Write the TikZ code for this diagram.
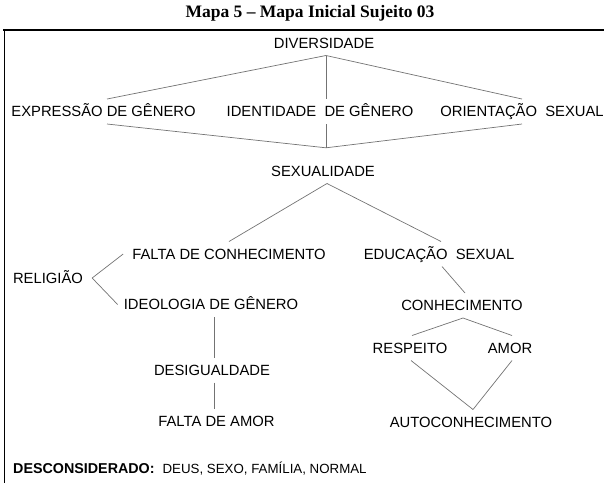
\documentclass[tikz,border=0pt]{standalone}
\usepackage{fontspec}
\setmainfont{Liberation Sans}
\newfontfamily\titlefont{Liberation Serif}
\begin{document}
\begin{tikzpicture}[x=1pt,y=-1pt,
        concept/.style={inner xsep=9pt, inner ysep=7pt, text height=10.6pt, text depth=0pt,
            font=\fontsize{14.8}{17}\selectfont},
        link/.style={draw=black!55, line width=0.7pt}]
        \useasboundingbox (0,0) rectangle (604,483);
        % title and frame
        \node[font=\titlefont\bfseries\fontsize{17.5}{19}\selectfont] (title) at (310,13) {Mapa 5 – Mapa Inicial Sujeito 03};
        \draw[line width=1.2pt] (3,30) -- (604,30);
        \draw[line width=1pt] (4,30) -- (4,483);
        % concepts
        \node[concept] (div) at (324,43) {DIVERSIDADE};
        \node[concept] (expr) at (103.5,111.5) {EXPRESSÃO DE GÊNERO};
        \node[concept] (ident) at (320,111.5) {IDENTIDADE\ \ DE GÊNERO};
        \node[concept] (orient) at (522,111.5) {ORIENTAÇÃO\ \ SEXUAL};
        \node[concept] (sex) at (323,171) {SEXUALIDADE};
        \node[concept] (falta) at (229,254) {FALTA DE CONHECIMENTO};
        \node[concept] (educ) at (439,254) {EDUCAÇÃO\ \ SEXUAL};
        \node[concept] (relig) at (48,278) {RELIGIÃO};
        \node[concept] (ideo) at (211,304.5) {IDEOLOGIA DE GÊNERO};
        \node[concept] (conh) at (462,305.5) {CONHECIMENTO};
        \node[concept] (desig) at (212,370) {DESIGUALDADE};
        \node[concept] (amorf) at (216.5,421.5) {FALTA DE AMOR};
        \node[concept] (resp) at (410,348) {RESPEITO};
        \node[concept] (amor) at (510,348) {AMOR};
        \node[concept] (auto) at (471,422) {AUTOCONHECIMENTO};
        \node[anchor=west, inner sep=0pt] (nota) at (13,469) {\textbf{\fontsize{14.3}{16}\selectfont DESCONSIDERADO:}\hspace{8pt}\fontsize{13.3}{15}\selectfont DEUS, SEXO, FAMÍLIA, NORMAL};
        % links
        \draw[link] ([xshift=2pt]div.south) -- ([xshift=3.5pt]expr.north);
        \draw[link] ([xshift=2pt]div.south) -- ([xshift=6pt]ident.north);
        \draw[link] ([xshift=2pt]div.south) -- (orient.north);
        \draw[link] ([xshift=3.5pt]expr.south) -- ([xshift=3pt,yshift=10.7pt]sex.north);
        \draw[link] ([xshift=6pt]ident.south) -- ([xshift=3pt,yshift=10.7pt]sex.north);
        \draw[link] (orient.south) -- ([xshift=3pt,yshift=10.7pt]sex.north);
        \draw[link] ([xshift=4pt]sex.south) -- (falta.north);
        \draw[link] ([xshift=4pt]sex.south) -- ([xshift=2pt]educ.north);
        \draw[link] (relig.east) -- (falta.west);
        \draw[link] (relig.east) -- ([xshift=3pt]ideo.west);
        \draw[link] ([xshift=3pt]educ.south) -- ([xshift=3pt]conh.north);
        \draw[link] ([xshift=3pt]ideo.south) -- ([xshift=2pt]desig.north);
        \draw[link] ([xshift=2pt]desig.south) -- ([xshift=-2.5pt]amorf.north);
        \draw[link] ([xshift=1pt]conh.south) -- ([xshift=2pt]resp.north);
        \draw[link] ([xshift=1pt]conh.south) -- ([xshift=2pt]amor.north);
        \draw[link] ([xshift=1pt]resp.south) -- ([xshift=2pt]auto.north);
        \draw[link] ([xshift=2pt]amor.south) -- ([xshift=2pt]auto.north);
\end{tikzpicture}
\end{document}
